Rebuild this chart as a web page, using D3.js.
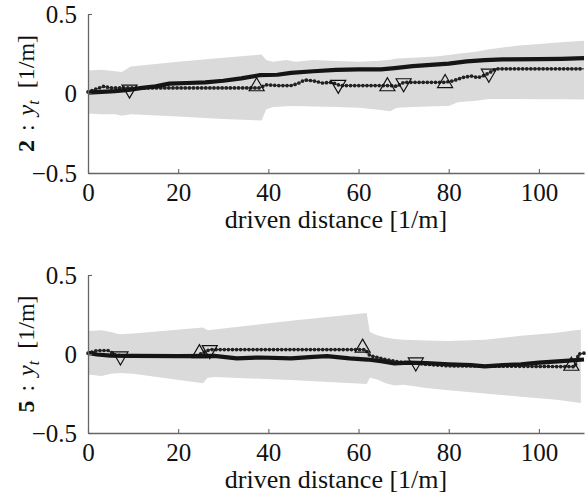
<!DOCTYPE html>
<html lang="en">
<head>
    <meta charset="UTF-8">
    <title>Document</title>
    <style>
        body { margin: 0; background: #fff; }
    </style>
</head>
<body>

    <svg id="svg" width="587" height="500"></svg>

    <script src="https://d3js.org/d3.v7.min.js"></script>
    <script>
        const xTicks = [0, 20, 40, 60, 80, 100]
        const yTicks = [-0.5, 0, 0.5]
        const yTickLabels = ['\u22120.5', '0', '0.5']

        // panel 2 : [distance, lower, upper]
        const band2 = [[0, -0.125, 0.145], [3, -0.13, 0.15], [6, -0.13, 0.14], [7.5, -0.14, 0.135], [9.5, -0.13, 0.17],
            [20, -0.145, 0.2], [30, -0.16, 0.225], [38.5, -0.17, 0.245], [39.5, -0.1, 0.21], [41, -0.085, 0.2],
            [44, -0.08, 0.21], [46, -0.078, 0.2], [50, -0.082, 0.21], [55, -0.085, 0.205], [60, -0.09, 0.2],
            [64, -0.1, 0.205], [67, -0.112, 0.212], [68.5, -0.09, 0.22], [72, -0.085, 0.225], [77, -0.08, 0.232],
            [80, -0.078, 0.242], [82, -0.055, 0.25], [86, -0.045, 0.262], [89, -0.035, 0.278], [95, -0.035, 0.3],
            [100, -0.036, 0.312], [105, -0.036, 0.322], [110, -0.037, 0.332]]
        const mean2 = [[0, 0.005], [3, 0.01], [6, 0.015], [9, 0.022], [12, 0.035], [15, 0.045], [18, 0.062], [22, 0.066],
            [26, 0.07], [30, 0.08], [34, 0.095], [38, 0.115], [42, 0.118], [45, 0.13], [50, 0.14], [55, 0.148],
            [60, 0.152], [65, 0.152], [68, 0.16], [72, 0.172], [76, 0.18], [80, 0.188], [84, 0.202], [88, 0.21],
            [92, 0.215], [100, 0.216], [105, 0.218], [110, 0.222]]
        const obs2 = [[0, 0.01], [2, 0.03], [3.5, 0.045], [5, 0.035], [8, 0.035], [38, 0.035], [39.5, 0.055], [42, 0.05],
            [45, 0.05], [46.5, 0.062], [48, 0.085], [50, 0.08], [52, 0.066], [54, 0.07], [56, 0.05], [67, 0.05],
            [68.5, 0.045], [70, 0.07], [79, 0.07], [81, 0.08], [83, 0.1], [85, 0.11], [86.5, 0.1], [88, 0.115],
            [90.5, 0.155], [110, 0.155]]
        const up2 = [[37.4, 0.05], [66.4, 0.05], [79.2, 0.07]]
        const down2 = [[9.2, 0.02], [55.5, 0.05], [70, 0.06], [88.9, 0.12]]

        // panel 5
        const band5 = [[0, -0.13, 0.145], [3, -0.14, 0.15], [5, -0.125, 0.14], [7, -0.12, 0.125], [10, -0.125, 0.13],
            [25.5, -0.185, 0.168], [26.5, -0.15, 0.15], [28, -0.145, 0.155], [45, -0.165, 0.21], [61.8, -0.19, 0.26],
            [62.5, -0.15, 0.14], [64, -0.16, 0.12], [66, -0.185, 0.105], [68, -0.2, 0.095], [70, -0.195, 0.09],
            [75, -0.215, 0.085], [80, -0.23, 0.083], [88, -0.25, 0.09], [96, -0.27, 0.115], [104, -0.29, 0.135],
            [108, -0.305, 0.15], [109.3, -0.31, 0.153]]
        const mean5 = [[0, 0.007], [2, -0.003], [5, -0.01], [10, -0.012], [20, -0.014], [28, -0.012], [30, -0.018],
            [33, -0.028], [38, -0.022], [45, -0.028], [50, -0.018], [53, -0.014], [58, -0.028], [62, -0.035],
            [65, -0.045], [68, -0.06], [71, -0.055], [75, -0.058], [80, -0.065], [85, -0.07], [88, -0.078],
            [92, -0.07], [96, -0.065], [100, -0.055], [105, -0.045], [110, -0.035]]
        const obs5 = [[0, 0.005], [2, 0.022], [4.5, 0.022], [6, -0.005], [8, -0.012], [24, -0.012], [27, 0.028],
            [61.5, 0.028], [62.5, -0.01], [64, -0.02], [66, -0.035], [69, -0.05], [72, -0.055], [75, -0.065],
            [80, -0.075], [108, -0.08], [108.8, 0.0], [110, 0.005]]
        const up5 = [[24.7, 0.01], [60.9, 0.045], [107.2, -0.07]]
        const down5 = [[7.2, -0.02], [27, 0.02], [72.7, -0.058]]

        const panels = [
            { num: '2', top: 14, bottom: 173, band: band2, mean: mean2, obs: obs2, up: up2, down: down2 },
            { num: '5', top: 275, bottom: 433, band: band5, mean: mean5, obs: obs5, up: up5, down: down5 }
        ]

        const svg = d3.select('#svg')
            .attr('font-family', 'Liberation Serif')

        const xScale = d3.scaleLinear()
            .domain([0, 110])
            .range([88, 584])

        panels.forEach(p => {
            const yScale = d3.scaleLinear()
                .domain([-0.5, 0.5])
                .range([p.bottom, p.top])

            const g = svg.append('g')

            const area = d3.area()
                .x(d => xScale(d[0]))
                .y0(d => yScale(d[1]))
                .y1(d => yScale(d[2]))

            g.append('path')
                .datum(p.band)
                .attr('d', area)
                .attr('fill', '#dadada')

            const line = d3.line()
                .x(d => xScale(d[0]))
                .y(d => yScale(d[1]))

            // observed: thin line with dots on it
            g.append('path')
                .datum(p.obs)
                .attr('d', line)
                .attr('fill', 'none')
                .attr('stroke', '#2a2a2a')
                .attr('stroke-width', 1)
            g.append('path')
                .datum(p.obs)
                .attr('d', line)
                .attr('fill', 'none')
                .attr('stroke', '#222')
                .attr('stroke-width', 3.7)
                .attr('stroke-linecap', 'round')
                .attr('stroke-dasharray', '0 4.1')

            // estimate
            g.append('path')
                .datum(p.mean)
                .attr('d', line)
                .attr('fill', 'none')
                .attr('stroke', '#151515')
                .attr('stroke-width', 4.2)
                .attr('stroke-linejoin', 'round')

            const tri = (d, dir) => {
                const cx = xScale(d[0]), cy = yScale(d[1])
                const w = 7.5, h = 13
                if (dir > 0) return `M${cx},${cy - h * 0.6}L${cx + w},${cy + h * 0.4}L${cx - w},${cy + h * 0.4}Z`
                return `M${cx},${cy + h * 0.6}L${cx + w},${cy - h * 0.4}L${cx - w},${cy - h * 0.4}Z`
            }

            g.selectAll('.up')
                .data(p.up)
                .enter()
                .append('path')
                .attr('d', d => tri(d, 1))
                .attr('fill', 'none')
                .attr('stroke', '#111')
                .attr('stroke-width', 1.2)

            g.selectAll('.down')
                .data(p.down)
                .enter()
                .append('path')
                .attr('d', d => tri(d, -1))
                .attr('fill', 'none')
                .attr('stroke', '#111')
                .attr('stroke-width', 1.2)

            // axes
            const xAxis = g.append('g')
                .attr('transform', `translate(0,${p.bottom})`)
                .call(d3.axisBottom(xScale).tickValues(xTicks).tickSize(-4).tickSizeOuter(0).tickPadding(10))
            const yAxis = g.append('g')
                .attr('transform', `translate(${xScale(0)},0)`)
                .call(d3.axisLeft(yScale).tickValues(yTicks).tickSize(-4).tickSizeOuter(0).tickPadding(11)
                    .tickFormat((d, i) => yTickLabels[i]))

            ;[xAxis, yAxis].forEach(a => {
                a.attr('font-family', null).attr('font-size', 25)
                a.select('.domain').attr('stroke', '#666').attr('stroke-width', 1.3)
                a.selectAll('.tick line').attr('stroke', '#666').attr('stroke-width', 1.1)
                a.selectAll('.tick text').attr('fill', '#111')
            })
            xAxis.selectAll('.tick text').attr('y', 28).attr('dy', 0)

            g.append('text')
                .attr('x', (xScale(0) + xScale(110)) / 2)
                .attr('y', p.bottom + 55)
                .attr('text-anchor', 'middle')
                .attr('font-size', 26)
                .attr('fill', '#111')
                .text('driven distance [1/m]')

            const cy = (p.top + p.bottom) / 2
            const lab = g.append('text')
                .attr('transform', `translate(34,${cy}) rotate(-90)`)
                .attr('text-anchor', 'middle')
                .attr('font-size', 24)
                .attr('fill', '#111')
            lab.append('tspan').attr('font-weight', 'bold').text(p.num)
            lab.append('tspan').attr('dx', 9).text(':')
            lab.append('tspan').attr('dx', 9).attr('font-style', 'italic').text('y')
            lab.append('tspan').attr('font-style', 'italic').attr('font-size', 16).attr('dy', 5).text('t')
            lab.append('tspan').attr('dy', -5).attr('dx', 6).text(' [1/m]')
        })
    </script>
</body>
</html>
